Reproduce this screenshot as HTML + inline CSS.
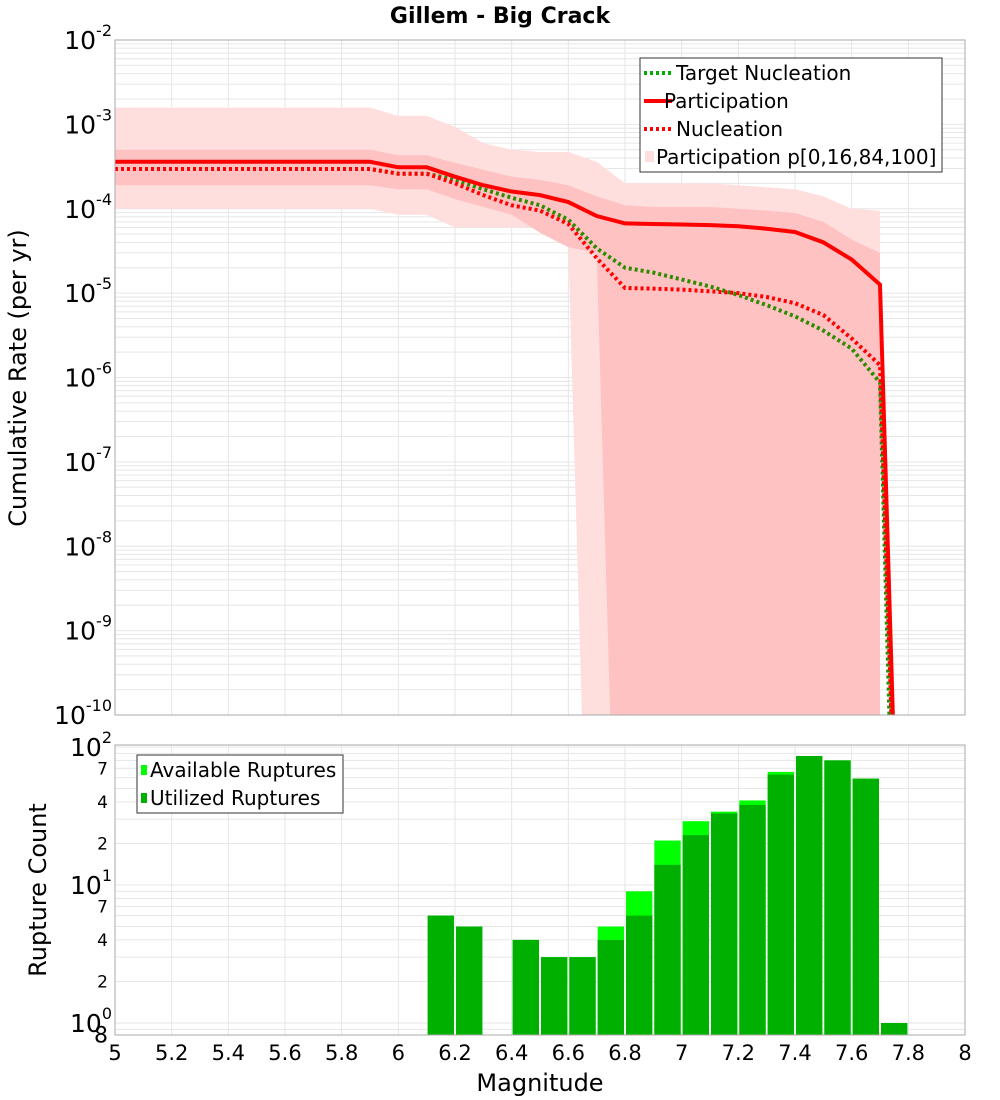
<!DOCTYPE html>
<html><head><meta charset="utf-8"><style>
html,body{margin:0;padding:0;background:#fff;overflow:hidden;}
svg{display:block;}
svg text{font-family:"DejaVu Sans","Liberation Sans",sans-serif;fill:#000;}
</style></head><body>
<svg id="c" width="1000" height="1100" xmlns="http://www.w3.org/2000/svg"></svg>
<script>
const mags=[5.0,5.1,5.2,5.3,5.4,5.5,5.6,5.7,5.8,5.9,6.0,6.1,6.2,6.3,6.4,6.5,6.6,6.7,6.8,6.9,7.0,7.1,7.2,7.3,7.4,7.5,7.6,7.7];
const partic=[3.6e-4,3.6e-4,3.6e-4,3.6e-4,3.6e-4,3.6e-4,3.6e-4,3.6e-4,3.6e-4,3.6e-4,3.1e-4,3.1e-4,2.4e-4,1.9e-4,1.6e-4,1.45e-4,1.2e-4,8.2e-5,6.7e-5,6.6e-5,6.5e-5,6.4e-5,6.2e-5,5.8e-5,5.3e-5,4.0e-5,2.5e-5,1.26e-5];
const nucl=[2.96e-4,2.96e-4,2.96e-4,2.96e-4,2.96e-4,2.96e-4,2.96e-4,2.96e-4,2.96e-4,2.96e-4,2.6e-4,2.6e-4,2.0e-4,1.45e-4,1.1e-4,9.5e-5,6.6e-5,2.6e-5,1.15e-5,1.13e-5,1.1e-5,1.05e-5,1.0e-5,9e-6,7.6e-6,5.5e-6,2.9e-6,1.4e-6];
const target=[2.96e-4,2.96e-4,2.96e-4,2.96e-4,2.96e-4,2.96e-4,2.96e-4,2.96e-4,2.96e-4,2.96e-4,2.6e-4,2.6e-4,2.2e-4,1.7e-4,1.35e-4,1.1e-4,7.4e-5,3.4e-5,2.0e-5,1.75e-5,1.45e-5,1.2e-5,9.5e-6,7.2e-6,5.3e-6,3.6e-6,2.2e-6,8.7e-7];
const p0=[1e-4,1e-4,1e-4,1e-4,1e-4,1e-4,1e-4,1e-4,1e-4,1e-4,8.5e-5,8.5e-5,6e-5,6e-5,6e-5,6e-5,3.5e-5,1e-16,1e-16,1e-16,1e-16,1e-16,1e-16,1e-16,1e-16,1e-16,1e-16,1e-16];
const p100=[1.58e-3,1.58e-3,1.58e-3,1.58e-3,1.58e-3,1.58e-3,1.58e-3,1.58e-3,1.58e-3,1.58e-3,1.26e-3,1.26e-3,9.3e-4,6e-4,5e-4,4.7e-4,4.7e-4,3.6e-4,2.0e-4,2.0e-4,2.0e-4,2.0e-4,1.9e-4,1.8e-4,1.7e-4,1.4e-4,1e-4,9.5e-5];
const p16=[1.9e-4,1.9e-4,1.9e-4,1.9e-4,1.9e-4,1.9e-4,1.9e-4,1.9e-4,1.9e-4,1.9e-4,1.7e-4,1.7e-4,1.3e-4,1.05e-4,8.5e-5,5.2e-5,3.5e-5,3e-5,1e-16,1e-16,1e-16,1e-16,1e-16,1e-16,1e-16,1e-16,1e-16,1e-16];
const p84=[5e-4,5e-4,5e-4,5e-4,5e-4,5e-4,5e-4,5e-4,5e-4,5e-4,4.3e-4,4.3e-4,3.5e-4,2.9e-4,2.4e-4,2.2e-4,1.9e-4,1.4e-4,1.1e-4,1.05e-4,1.05e-4,1.05e-4,1e-4,9.5e-5,8.9e-5,7e-5,4.3e-5,3e-5];
const tailMag=7.75, tailPartic=3e-11, tailNucl=1e-11, tailTarget=1e-12;
const binCenters=[6.15,6.25,6.45,6.55,6.65,6.75,6.85,6.95,7.05,7.15,7.25,7.35,7.45,7.55,7.65,7.75];
const utilized=[6,5,4,3,3,4,6,14,23,33,38,63,86,80,59,1];
const available=[6,5,4,3,3,5,9,21,29,34,41,66,86,80,59,1];
const xTicks=[5,5.2,5.4,5.6,5.8,6,6.2,6.4,6.6,6.8,7,7.2,7.4,7.6,7.8,8];

const svg=document.getElementById('c');const NS='http://www.w3.org/2000/svg';
function el(t,a,p){const e=document.createElementNS(NS,t);for(const k in a)e.setAttribute(k,a[k]);(p||svg).appendChild(e);return e;}
const L=115,R=965,T1=40,B1=715,T2=745,B2=1035;
const x=m=>L+(m-5)/3*(R-L);
const y1=v=>T1+(-2-Math.log10(v))/8*(B1-T1);
const y2=v=>747+(2-Math.log10(v))*138;

const defs=el('defs',{});
const c1=el('clipPath',{id:'cp1'},defs);el('rect',{x:L,y:T1,width:R-L,height:B1-T1},c1);
const c2=el('clipPath',{id:'cp2'},defs);el('rect',{x:L,y:T2,width:R-L,height:B2-T2},c2);

const tt=el('text',{x:500,y:23,'text-anchor':'middle','font-size':22,'font-weight':'bold'});tt.textContent='Gillem - Big Crack';


const g1=el('g',{});
for(let e=-10;e<-2;e++)for(let k=1;k<10;k++){const yy=y1(k*Math.pow(10,e));el('line',{x1:L,x2:R,y1:yy,y2:yy,stroke:'#e6e6e6','stroke-width':1},g1);}
xTicks.forEach(t=>{el('line',{x1:x(t),x2:x(t),y1:T1,y2:B1,stroke:'#e6e6e6'},g1);el('line',{x1:x(t),x2:x(t),y1:T2,y2:B2,stroke:'#e6e6e6'},g1);});
for(let e=0;e<2;e++)for(let k=1;k<10;k++){const yy=y2(k*Math.pow(10,e));if(yy<B2)el('line',{x1:L,x2:R,y1:yy,y2:yy,stroke:'#e6e6e6'},g1);}
el('line',{x1:L,x2:R,y1:y2(100),y2:y2(100),stroke:'#e6e6e6'},g1);
el('line',{x1:L,x2:R,y1:y2(0.9),y2:y2(0.9),stroke:'#e6e6e6'},g1);

function band(lo,hi,color,name){let d='';mags.forEach((m,i)=>{d+=(i?'L':'M')+x(m)+','+y1(hi[i]);});
for(let i=mags.length-1;i>=0;i--)d+='L'+x(mags[i])+','+y1(lo[i]);d+='Z';
const p=el('path',{d:d,fill:color,'clip-path':'url(#cp1)'});}
band(p0,p100,'#ffdede','band-p0-p100');
band(p16,p84,'#ffc2c2','band-p16-p84');
function line(vals,tail,color,dash,w,name){let d='';mags.forEach((m,i)=>{d+=(i?'L':'M')+x(m)+','+y1(vals[i]);});d+='L'+x(tailMag)+','+y1(tail);
const a={d:d,fill:'none',stroke:color,'stroke-width':w,'clip-path':'url(#cp1)'};if(dash)a['stroke-dasharray']=dash;const p=el('path',a);}
line(target,tailTarget,'#2e8b00','3,3',4,'target-nucleation-line');
line(nucl,tailNucl,'#ff0000','3,3',4,'nucleation-line');
line(partic,tailPartic,'#ff0000',null,4,'participation-line');

const gb=el('g',{'clip-path':'url(#cp2)'});
binCenters.forEach((c,i)=>{const x0=x(c-0.05)+1,w=x(c+0.05)-x(c-0.05)-2;
const a=el('rect',{x:x0,y:y2(available[i]),width:w,height:B2-y2(available[i]),fill:'#00ff00'},gb);
const u=el('rect',{x:x0,y:y2(utilized[i]),width:w,height:B2-y2(utilized[i]),fill:'#00b000'},gb);});

el('rect',{x:L,y:T1,width:R-L,height:B1-T1,fill:'none',stroke:'#aaa'});
el('rect',{x:L,y:T2,width:R-L,height:B2-T2,fill:'none',stroke:'#aaa'});

for(let e=-10;e<=-2;e++){const yy=y1(Math.pow(10,e));const t=el('text',{x:112,y:yy+9,'text-anchor':'end','font-size':25});
t.innerHTML='10<tspan dy="-13" font-size="16">'+e+'</tspan>';}
[[100,'2'],[10,'1'],[1,'0']].forEach(([v,s])=>{const t=el('text',{x:112,y:y2(v)+9,'text-anchor':'end','font-size':25});t.innerHTML='10<tspan dy="-13" font-size="16">'+s+'</tspan>';});
[2,4,7,20,40,70,0.8].forEach(v=>{const t=el('text',{x:108,y:y2(v)+6,'text-anchor':'end','font-size':v<1?22:17});t.textContent=v<1?'8':String(v).charAt(0);});
xTicks.forEach(t=>{const s=el('text',{x:x(t),y:1060,'text-anchor':'middle','font-size':21});s.textContent=String(t);});
let a=el('text',{x:540,y:1091,'text-anchor':'middle','font-size':24});a.textContent='Magnitude';
a=el('text',{x:0,y:0,'text-anchor':'middle','font-size':24,transform:'translate(26,378) rotate(-90)'});a.textContent='Cumulative Rate (per yr)';
a=el('text',{x:0,y:0,'text-anchor':'middle','font-size':24,transform:'translate(46,890) rotate(-90)'});a.textContent='Rupture Count';

const lg=el('g',{});
el('rect',{x:640,y:58,width:302,height:114,fill:'#fff',stroke:'#333'},lg);
[['Target Nucleation','#00b000','3,3'],['Participation','#ff0000',null],['Nucleation','#ff0000','3,3']].forEach(([n,c,d],i)=>{const yy=73+i*28;const at={x1:644,x2:672,y1:yy,y2:yy,stroke:c,'stroke-width':4};if(d)at['stroke-dasharray']=d;el('line',at,lg);
const t=el('text',{x:n==='Participation'?664:676,y:yy+7,'font-size':20},lg);t.textContent=n;});
el('rect',{x:645,y:151,width:9,height:11,fill:'#ffdede'},lg);
let t=el('text',{x:656,y:164,'font-size':20},lg);t.textContent='Participation p[0,16,84,100]';
const lg2=el('g',{});
el('rect',{x:137,y:755,width:206,height:58,fill:'#fff',stroke:'#333'},lg2);
el('rect',{x:141,y:765,width:6,height:10,fill:'#00ff00'},lg2);
el('rect',{x:141,y:793,width:6,height:10,fill:'#00b000'},lg2);
t=el('text',{x:150,y:777,'font-size':20},lg2);t.textContent='Available Ruptures';
t=el('text',{x:150,y:805,'font-size':20},lg2);t.textContent='Utilized Ruptures';
</script>
</body></html>
